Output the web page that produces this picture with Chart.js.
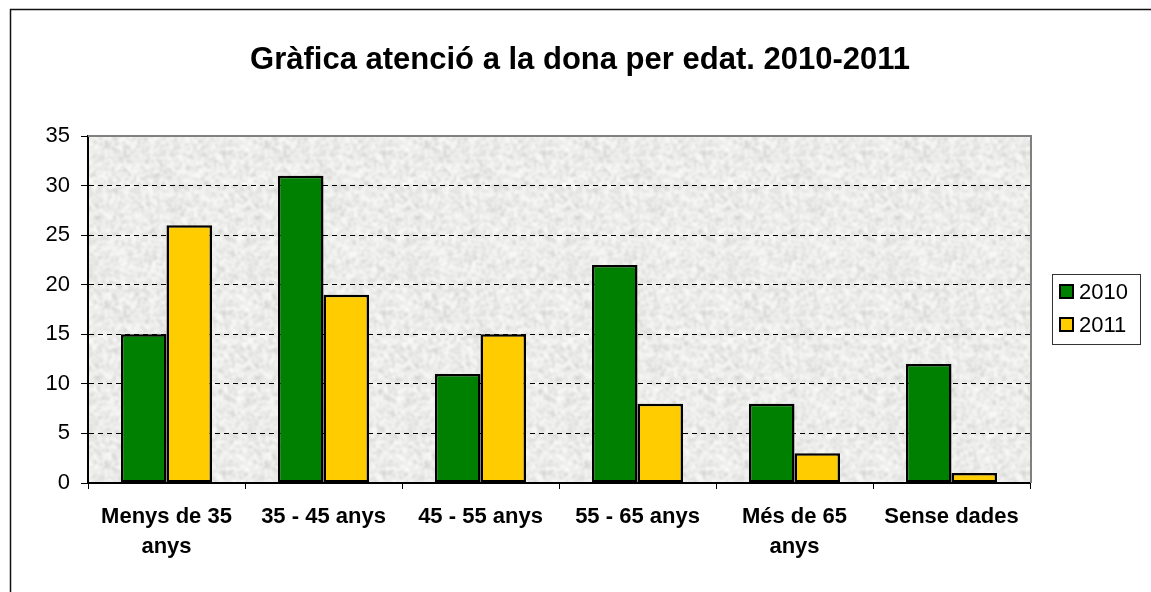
<!DOCTYPE html>
<html>
<head>
<meta charset="utf-8">
<script src="https://cdn.jsdelivr.net/npm/chart.js@4"></script>
<style>
  body { margin: 0; background: #fff; }
  #grafic { display: block; }
</style>
</head>
<body>
<canvas id="grafic" width="1151" height="592"></canvas>
<script>
const titol = "Gràfica atenció a la dona per edat. 2010-2011";
const categories = [["Menys de 35", "anys"], "35 - 45 anys", "45 - 55 anys", "55 - 65 anys", ["Més de 65", "anys"], "Sense dades"];
const valors2010 = [15, 31, 11, 22, 8, 12];
const valors2011 = [26, 19, 15, 8, 3, 1];
const marquesY = [0, 5, 10, 15, 20, 25, 30, 35];

const VERD = "#008000";
const GROC = "#FFCC00";
const FONT = "'Liberation Sans', Arial, sans-serif";

// textura gris tipus granit per al fons de l'àrea del gràfic
function crearTextura() {
    const mida = 80;
    const brut = document.createElement("canvas");
    brut.width = mida; brut.height = mida;
    const b = brut.getContext("2d");
    const img = b.createImageData(mida, mida);
    for (let y = 0; y < mida; y++) {
        for (let x = 0; x < mida; x++) {
            let h = Math.sin(x * 12.9898 + y * 78.233) * 43758.5453;
            h = h - Math.floor(h);
            const g = Math.round(198 + Math.pow(h, 0.5) * 57);
            const k = (y * mida + x) * 4;
            img.data[k] = g; img.data[k + 1] = g; img.data[k + 2] = g - 2; img.data[k + 3] = 255;
        }
    }
    b.putImageData(img, 0, 0);

    // s'amplia al doble i es difumina per fer taques més grans
    const suau = document.createElement("canvas");
    suau.width = mida * 2; suau.height = mida * 2;
    const s = suau.getContext("2d");
    s.fillStyle = "#efefed";
    s.fillRect(0, 0, mida * 2, mida * 2);
    s.filter = "blur(1.3px)";
    for (let dx = -1; dx <= 1; dx++) {
        for (let dy = -1; dy <= 1; dy++) {
            s.drawImage(brut, dx * mida * 2, dy * mida * 2, mida * 2, mida * 2);
        }
    }
    return suau;
}

const textura = crearTextura();

const marcPlugin = {
    id: "marc",
    beforeDraw(chart) {
        const ctx = chart.ctx;
        const area = chart.chartArea;
        ctx.save();
        ctx.fillStyle = "#fff";
        ctx.fillRect(0, 0, chart.width, chart.height);

        // vora exterior
        ctx.strokeStyle = "#111";
        ctx.lineWidth = 1.5;
        ctx.beginPath();
        ctx.moveTo(10.5, chart.height + 2);
        ctx.lineTo(10.5, 9.5);
        ctx.lineTo(chart.width + 2, 9.5);
        ctx.stroke();

        // fons amb textura
        ctx.fillStyle = ctx.createPattern(textura, "repeat");
        ctx.fillRect(area.left, area.top, area.right - area.left, area.bottom - area.top);

        // títol
        ctx.fillStyle = "#000";
        ctx.font = "bold 31px " + FONT;
        ctx.textAlign = "center";
        ctx.textBaseline = "middle";
        ctx.fillText(titol, 580, 60);
        ctx.restore();
    },
    afterDatasetsDraw(chart) {
        const ctx = chart.ctx;
        const area = chart.chartArea;
        ctx.save();
        // vores superior i dreta de l'àrea
        ctx.strokeStyle = "#808080";
        ctx.lineWidth = 2;
        ctx.beginPath();
        ctx.moveTo(area.left, area.top);
        ctx.lineTo(area.right + 1, area.top);
        ctx.lineTo(area.right + 1, area.bottom);
        ctx.stroke();

        // llegenda
        ctx.fillStyle = "#fff";
        ctx.strokeStyle = "#333";
        ctx.lineWidth = 1;
        ctx.fillRect(1052, 274, 88, 70);
        ctx.strokeRect(1052.5, 274.5, 88, 70);
        ctx.font = "22px " + FONT;
        ctx.textBaseline = "middle";
        ctx.textAlign = "left";
        chart.data.datasets.forEach((ds, i) => {
            const y = 285 + i * 33;
            ctx.fillStyle = ds.backgroundColor;
            ctx.fillRect(1060, y, 13, 13);
            ctx.strokeStyle = "#000";
            ctx.lineWidth = 2;
            ctx.strokeRect(1060, y, 13, 13);
            ctx.fillStyle = "#000";
            ctx.fillText(ds.label, 1079, y + 8);
        });
        ctx.restore();
    }
};

const ctx = document.getElementById("grafic").getContext("2d");

new Chart(ctx, {
    type: "bar",
    data: {
        labels: categories,
        datasets: [
            {
                label: "2010",
                data: valors2010,
                backgroundColor: VERD,
                borderColor: "#000",
                borderWidth: 2.5,
                borderSkipped: false
            },
            {
                label: "2011",
                data: valors2011,
                backgroundColor: GROC,
                borderColor: "#000",
                borderWidth: 2.5,
                borderSkipped: false
            }
        ]
    },
    options: {
        responsive: false,
        animation: false,
        layout: { padding: { top: 136, left: 0, right: 121, bottom: 0 } },
        datasets: {
            bar: { categoryPercentage: 0.58, barPercentage: 1 }
        },
        plugins: {
            legend: { display: false },
            title: { display: false },
            tooltip: { enabled: false }
        },
        scales: {
            x: {
                offset: true,
                afterFit(scale) { scale.height = 109; },
                grid: {
                    offset: true,
                    drawOnChartArea: false,
                    drawTicks: true,
                    tickLength: 6,
                    tickColor: "#000",
                    tickWidth: 1
                },
                border: { display: true, color: "#000", width: 2 },
                ticks: {
                    color: "#000",
                    maxRotation: 0,
                    autoSkip: false,
                    padding: 13,
                    font: { family: FONT, size: 22, weight: "bold", lineHeight: 1.35 }
                }
            },
            y: {
                min: 0,
                max: 35,
                afterFit(scale) { scale.width = 88; },
                afterBuildTicks(scale) {
                    scale.ticks = marquesY.map(v => ({ value: v }));
                },
                grid: {
                    color: c => (c.tick && (c.tick.value === 0 || c.tick.value === 35)) ? "rgba(0,0,0,0)" : "#000",
                    lineWidth: 1,
                    drawTicks: true,
                    tickLength: 7,
                    tickColor: "#000",
                    tickBorderDash: []
                },
                border: { display: true, color: "#000", width: 2, dash: [5, 4] },
                ticks: {
                    color: "#000",
                    padding: 11,
                    font: { family: FONT, size: 22 }
                }
            }
        }
    },
    plugins: [marcPlugin]
});
</script>
</body>
</html>
